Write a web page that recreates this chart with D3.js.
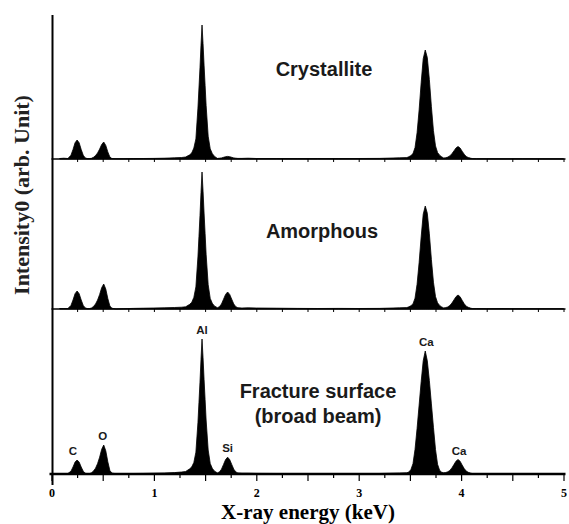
<!DOCTYPE html>
<html>
<head>
<meta charset="utf-8">
<script src="https://cdn.jsdelivr.net/npm/d3@7"></script>
<style>
  html, body { margin: 0; padding: 0; background: #fff; }
  svg { display: block; }
</style>
</head>
<body>
<div id="chart"></div>
<script>
// X-ray energy grid (keV)
const energy = [
  0.08, 0.12, 0.16,
  0.19, 0.21, 0.23, 0.25, 0.27, 0.29, 0.31, 0.33, 0.35,
  0.37,
  0.39, 0.41, 0.43, 0.45, 0.47, 0.49, 0.51, 0.53, 0.55, 0.57, 0.59,
  0.63, 0.70, 0.80, 0.90, 1.00, 1.10, 1.20, 1.27, 1.31,
  1.35, 1.37, 1.39, 1.41, 1.43, 1.44, 1.45, 1.46, 1.47, 1.48, 1.49, 1.50, 1.51, 1.53, 1.55, 1.57, 1.59,
  1.62, 1.64, 1.66, 1.68, 1.70, 1.72, 1.74, 1.76, 1.78, 1.80, 1.82,
  1.86, 1.92, 2.00, 2.20, 2.40, 2.60, 2.80, 3.00, 3.20, 3.40, 3.47,
  3.49, 3.51, 3.53, 3.55, 3.57, 3.59, 3.61, 3.63, 3.65, 3.67, 3.69, 3.71, 3.73, 3.75, 3.77, 3.79, 3.81,
  3.83, 3.85, 3.87, 3.89, 3.91, 3.93, 3.95, 3.97, 3.99, 4.01, 4.03, 4.05, 4.07, 4.09, 4.11,
  4.15, 4.25, 4.40, 4.60, 4.80, 5.00
];

// Intensities (arb. unit)
const crystallite = [
  5, 8, 5,
  38, 95, 162, 190, 162, 95, 38, 11, 4,
  4,
  7, 17, 34, 61, 99, 145, 170, 136, 71, 20, 5,
  3, 3, 4, 5, 6, 8, 12, 15, 20,
  42, 62, 109, 201, 509, 710, 911, 1139, 1340, 1152, 938, 737, 536, 228, 102, 55, 28,
  6, 8, 11, 17, 23, 26, 23, 17, 11, 8, 6,
  6, 8, 5, 5, 4, 5, 4, 5, 6, 12, 14,
  23, 34, 54, 114, 262, 491, 763, 1003, 1090, 1014, 796, 523, 283, 131, 65, 38, 22,
  10, 13, 19, 31, 53, 81, 110, 125, 110, 78, 48, 25, 15, 9, 4,
  3, 3, 2, 3, 2, 2
];

const amorphous = [
  5, 5, 5,
  36, 90, 153, 180, 153, 90, 36, 11, 4,
  4,
  10, 25, 50, 90, 145, 213, 250, 200, 105, 30, 8,
  0, 3, 6, 8, 10, 12, 15, 18, 22,
  47, 68, 116, 221, 521, 726, 932, 1165, 1370, 1178, 959, 754, 548, 243, 106, 58, 31,
  13, 23, 50, 98, 146, 170, 146, 98, 50, 23, 13,
  10, 12, 10, 8, 6, 5, 6, 5, 6, 12, 14,
  22, 33, 51, 108, 247, 464, 721, 948, 1030, 958, 752, 494, 268, 124, 62, 36, 21,
  11, 14, 21, 35, 59, 91, 123, 140, 123, 87, 53, 28, 17, 10, 4,
  4, 3, 4, 3, 3, 3
];

const fracture = [
  0, 5, 5,
  28, 70, 119, 140, 119, 70, 28, 8, 3,
  3,
  12, 29, 58, 104, 168, 247, 290, 232, 122, 35, 9,
  3, 5, 5, 6, 8, 10, 14, 20, 25,
  52, 72, 115, 218, 513, 716, 918, 1148, 1350, 1161, 945, 743, 540, 240, 105, 57, 30,
  11, 21, 48, 96, 144, 168, 144, 96, 48, 21, 11,
  8, 8, 6, 5, 5, 5, 5, 5, 5, 10, 12,
  20, 45, 103, 246, 455, 689, 923, 1132, 1230, 1132, 935, 701, 467, 246, 98, 37, 18,
  12, 15, 22, 36, 61, 94, 128, 145, 128, 90, 55, 29, 17, 10, 4,
  3, 3, 3, 3, 3, 3
];

const panelNames = ["Crystallite", "Amorphous", "Fracture surface"];
const panelSubtitles = ["", "", "(broad beam)"];
const peakLabels = ["C", "O", "Al", "Si", "Ca", "Ca"];
const peakEnergies = [0.21, 0.50, 1.47, 1.72, 3.66, 3.98];
const xTickLabels = ["0", "1", "2", "3", "4", "5"];
const xTitle = "X-ray energy (keV)";
const yTitle = "Intensity0 (arb. Unit)";

const W = 569, H = 524;
const svg = d3.select("#chart").append("svg")
  .attr("width", W).attr("height", H)
  .attr("viewBox", `0 0 ${W} ${H}`);

const x = d3.scaleLinear().domain([0, 5]).range([51.5, 563.5]);
const panelBase = [159, 309, 474];
const series = [crystallite, amorphous, fracture];
const tickVals = d3.range(0, 21).map(i => i * 0.25);

const ink = "#000";
const sans = "'Liberation Sans', Arial, sans-serif";
const serif = "'Liberation Serif', 'Times New Roman', serif";

series.forEach((vals, p) => {
  const base = panelBase[p];
  const y = d3.scaleLinear().domain([0, 1500]).range([base, base - 150]);
  const data = energy.map((e, i) => ({ e, v: vals[i] }));

  if (p < 2) {
    const ax = svg.append("g")
      .attr("transform", `translate(0,${base})`)
      .call(d3.axisBottom(x).tickValues(tickVals.filter(v => v > 0)).tickSize(3).tickSizeOuter(0).tickFormat(""));
    ax.select(".domain").remove();
    ax.selectAll(".tick line").attr("stroke", ink).attr("stroke-width", 1);
    svg.append("line")
      .attr("x1", x(0)).attr("x2", x(5) + 2)
      .attr("y1", base).attr("y2", base)
      .attr("stroke", ink).attr("stroke-width", 1.6);
  }

  const area = d3.area()
    .x(d => x(d.e))
    .y0(base)
    .y1(d => y(d.v))
    .curve(d3.curveLinear);

  svg.append("path")
    .datum(data)
    .attr("d", area)
    .attr("fill", ink)
    .attr("stroke", ink)
    .attr("stroke-width", 0.8)
    .attr("stroke-linejoin", "round");

  if (p === 2) {
    peakLabels.forEach((lab, k) => {
      const e = peakEnergies[k];
      let peakV = 0;
      energy.forEach((en, i) => { if (Math.abs(en - e) <= 0.05) peakV = Math.max(peakV, vals[i]); });
      svg.append("text")
        .attr("x", x(e))
        .attr("y", y(peakV) - 5)
        .attr("text-anchor", "middle")
        .attr("font-family", sans)
        .attr("font-weight", "bold")
        .attr("font-size", 11.5)
        .attr("fill", "#1a1a1a")
        .text(lab);
    });
  }
});

// panel titles
const titlePos = [[324, 76], [322, 238], [318, 398]];
panelNames.forEach((n, p) => {
  svg.append("text")
    .attr("x", titlePos[p][0]).attr("y", titlePos[p][1])
    .attr("text-anchor", "middle")
    .attr("font-family", sans).attr("font-weight", "bold").attr("font-size", 20)
    .attr("fill", "#1a1a1a")
    .text(n);
  if (panelSubtitles[p]) {
    svg.append("text")
      .attr("x", titlePos[p][0]).attr("y", titlePos[p][1] + 25)
      .attr("text-anchor", "middle")
      .attr("font-family", sans).attr("font-weight", "bold").attr("font-size", 20)
      .attr("fill", "#1a1a1a")
      .text(panelSubtitles[p]);
  }
});

// bottom axis
const bx = svg.append("g")
  .attr("transform", `translate(0,${panelBase[2]})`)
  .call(d3.axisBottom(x).tickValues(tickVals).tickSize(7).tickSizeOuter(0)
    .tickFormat(d => Number.isInteger(d) ? xTickLabels[d] : ""));
bx.select(".domain").remove();
bx.selectAll(".tick line")
  .attr("stroke", ink).attr("stroke-width", 1.2)
  .attr("y2", d => (Math.abs(d * 2 - Math.round(d * 2)) < 1e-6) ? 7 : 4);
bx.selectAll(".tick text")
  .attr("y", 23).attr("dy", 0)
  .attr("font-family", serif).attr("font-weight", "bold").attr("font-size", 12)
  .attr("fill", ink);
svg.append("line")
  .attr("x1", x(0) - 2).attr("x2", x(5) + 2)
  .attr("y1", panelBase[2]).attr("y2", panelBase[2])
  .attr("stroke", ink).attr("stroke-width", 2.4);

// left axis line
svg.append("line")
  .attr("x1", 52.5).attr("x2", 52.5)
  .attr("y1", 15).attr("y2", 485)
  .attr("stroke", ink).attr("stroke-width", 2);

// axis titles
svg.append("text")
  .attr("x", 308).attr("y", 519)
  .attr("text-anchor", "middle")
  .attr("font-family", serif).attr("font-weight", "bold").attr("font-size", 21)
  .attr("fill", ink)
  .text(xTitle);

svg.append("text")
  .attr("transform", "translate(29,195) rotate(-90)")
  .attr("text-anchor", "middle")
  .attr("font-family", serif).attr("font-weight", "bold").attr("font-size", 22)
  .attr("fill", "#222")
  .text(yTitle);
</script>
</body>
</html>
